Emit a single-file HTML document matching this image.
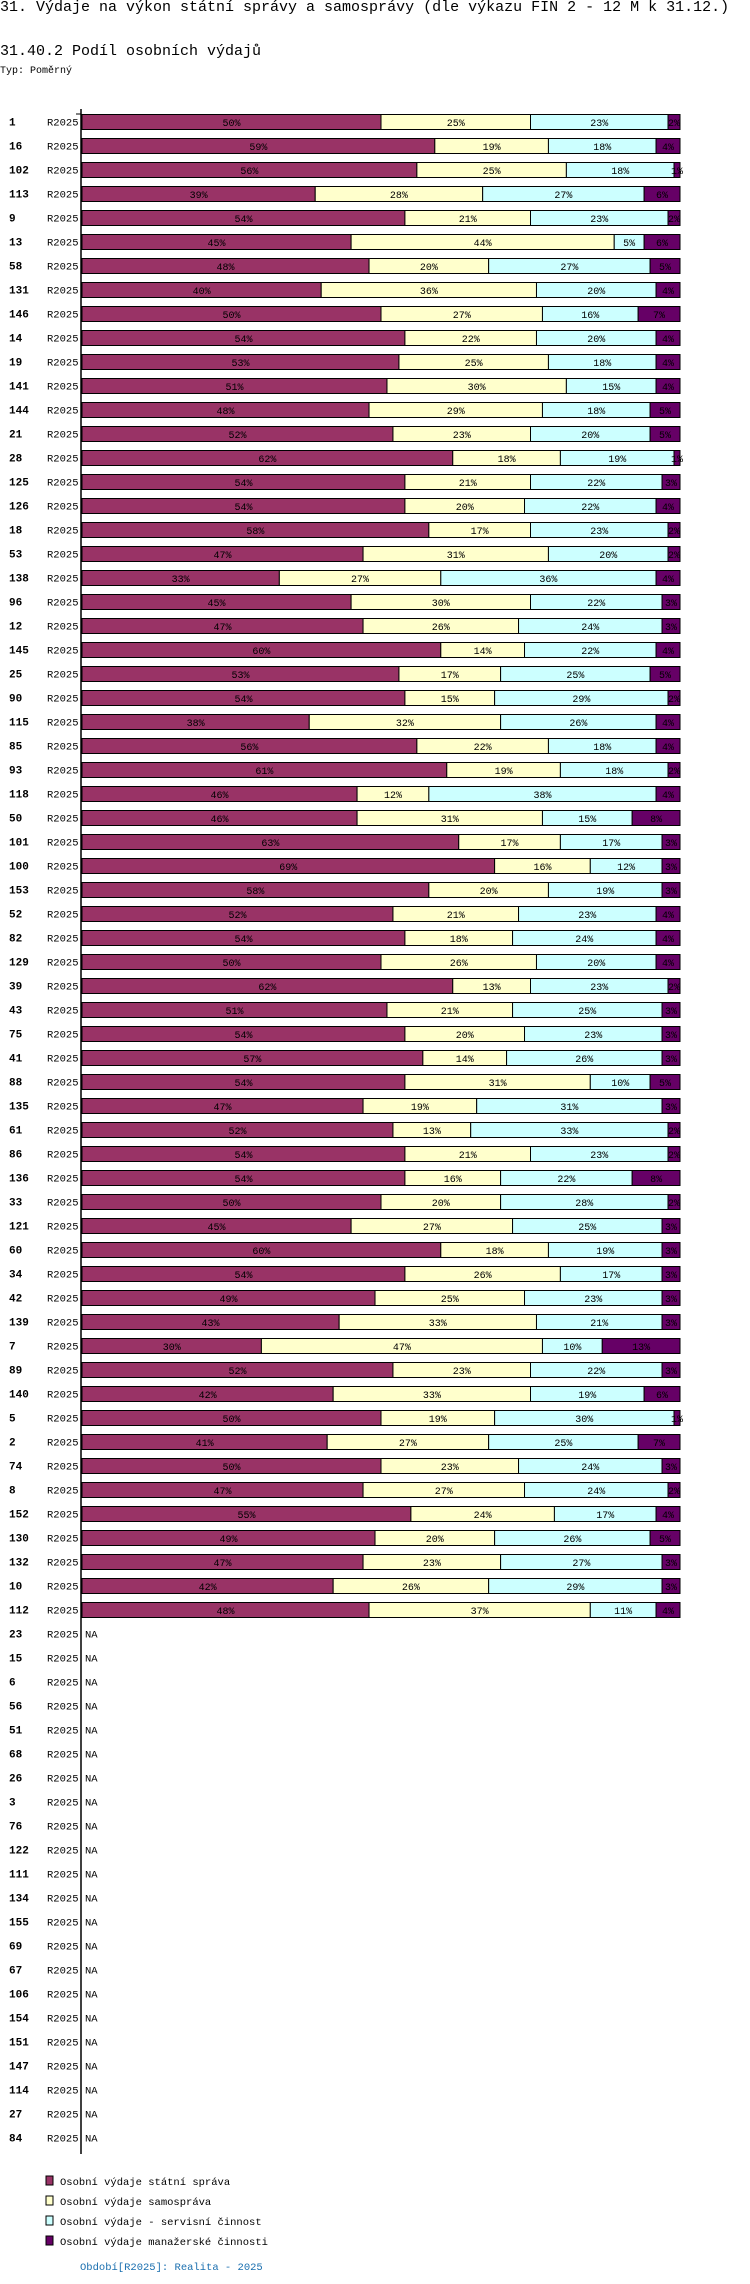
<!DOCTYPE html>
<html><head><meta charset="utf-8">
<style>
body{margin:0;background:#fff;width:750px;height:2284px;overflow:hidden;font-family:"Liberation Mono","DejaVu Sans Mono",monospace;}
.t{position:absolute;white-space:nowrap;color:#000;}
</style></head><body>
<div class="t" style="left:0;top:-1px;font-size:15px;">31. Výdaje na výkon státní správy a samosprávy (dle výkazu FIN 2 - 12 M k 31.12.)</div>
<div class="t" style="left:0;top:43px;font-size:15px;">31.40.2 Podíl osobních výdajů</div>
<div class="t" style="left:0;top:66px;font-size:10px;">Typ: Poměrný</div>
<svg id="chart" width="750" height="2284" style="position:absolute;left:0;top:0" xmlns="http://www.w3.org/2000/svg"></svg>
<script>
const categories=["1","16","102","113","9","13","58","131","146","14","19","141","144","21","28","125","126","18","53","138","96","12","145","25","90","115","85","93","118","50","101","100","153","52","82","129","39","43","75","41","88","135","61","86","136","33","121","60","34","42","139","7","89","140","5","2","74","8","152","130","132","10","112","23","15","6","56","51","68","26","3","76","122","111","134","155","69","67","106","154","151","147","114","27","84"];
const statni=[50,59,56,39,54,45,48,40,50,54,53,51,48,52,62,54,54,58,47,33,45,47,60,53,54,38,56,61,46,46,63,69,58,52,54,50,62,51,54,57,54,47,52,54,54,50,45,60,54,49,43,30,52,42,50,41,50,47,55,49,47,42,48];
const samosprava=[25,19,25,28,21,44,20,36,27,22,25,30,29,23,18,21,20,17,31,27,30,26,14,17,15,32,22,19,12,31,17,16,20,21,18,26,13,21,20,14,31,19,13,21,16,20,27,18,26,25,33,47,23,33,19,27,23,27,24,20,23,26,37];
const servisni=[23,18,18,27,23,5,27,20,16,20,18,15,18,20,19,22,22,23,20,36,22,24,22,25,29,26,18,18,38,15,17,12,19,23,24,20,23,25,23,26,10,31,33,23,22,28,25,19,17,23,21,10,22,19,30,25,24,24,17,26,27,29,11];
const manazerske=[2,4,1,6,2,6,5,4,7,4,4,4,5,5,1,3,4,2,2,4,3,3,4,5,2,4,4,2,4,8,3,3,3,4,4,4,2,3,3,3,5,3,2,2,8,2,3,3,3,3,3,13,3,6,1,7,3,2,4,5,3,3,4];
const seriesNames=["Osobní výdaje státní správa","Osobní výdaje samospráva","Osobní výdaje - servisní činnost","Osobní výdaje manažerské činnosti"];
const colors=["#993366","#FFFFCC","#CCFFFF","#660066"];
const NS="http://www.w3.org/2000/svg";
const svg=document.getElementById('chart');
const X0=82,W=598,Y0=114,PITCH=24,BH=15;
function xScale(p){return X0+p/100*W;}
function yRow(i){return Y0+i*PITCH;}
function mk(tag,attrs){const e=document.createElementNS(NS,tag);for(const k in attrs)e.setAttribute(k,attrs[k]);svg.appendChild(e);return e;}
const series=[statni,samosprava,servisni,manazerske];
const F='"Liberation Mono","DejaVu Sans Mono",monospace';
categories.forEach((c,i)=>{
  const yc=yRow(i)+BH/2;
  const lab=mk('text',{x:9,y:yc+4,'font-size':11,'font-weight':'bold','font-family':F});
  lab.textContent=c;
  
  
  const per=mk('text',{x:47,y:yc+4,'font-size':10.5,'font-family':F});
  per.textContent="R2025";
  
  
  if(i>=statni.length){
    const na=mk('text',{x:85,y:yc+4,'font-size':10.5,'font-family':F});
    na.textContent="NA";
    
    
    return;
  }
  const tot=series.reduce((s,a)=>s+a[i],0);
  let acc=0;
  series.forEach((arr,k)=>{
    const v=arr[i];
    const x1=xScale(acc/tot*100),x2=xScale((acc+v)/tot*100);
    const r=mk('rect',{x:x1,y:yRow(i)+0.5,width:Math.max(x2-x1,0),height:BH,fill:colors[k],stroke:'#000','stroke-width':1});
    
    
    const t=mk('text',{x:(x1+x2)/2,y:yc+4.5,'font-size':10,'text-anchor':'middle','font-family':F,fill:'#000'});
    t.textContent=v+"%";
    
    
    acc+=v;
  });
});
const ax=mk('line',{x1:81,y1:109,x2:81,y2:2154,stroke:'#000','stroke-width':1.5});


const tk=mk('line',{x1:76,y1:114,x2:81,y2:114,stroke:'#000','stroke-width':1});


seriesNames.forEach((n,k)=>{
  const y=2176+k*20;
  const sq=mk('rect',{x:46,y:y,width:7,height:9,fill:colors[k],stroke:'#000','stroke-width':1});
  
  
  const t=mk('text',{x:60,y:y+9,'font-size':10.5,'font-family':F});
  t.textContent=n;
  
  
});
const ft=mk('text',{x:80,y:2270,'font-size':10.5,'font-family':F,fill:'#1a6faf'});
ft.textContent="Období[R2025]: Realita - 2025";


</script>
</body></html>
